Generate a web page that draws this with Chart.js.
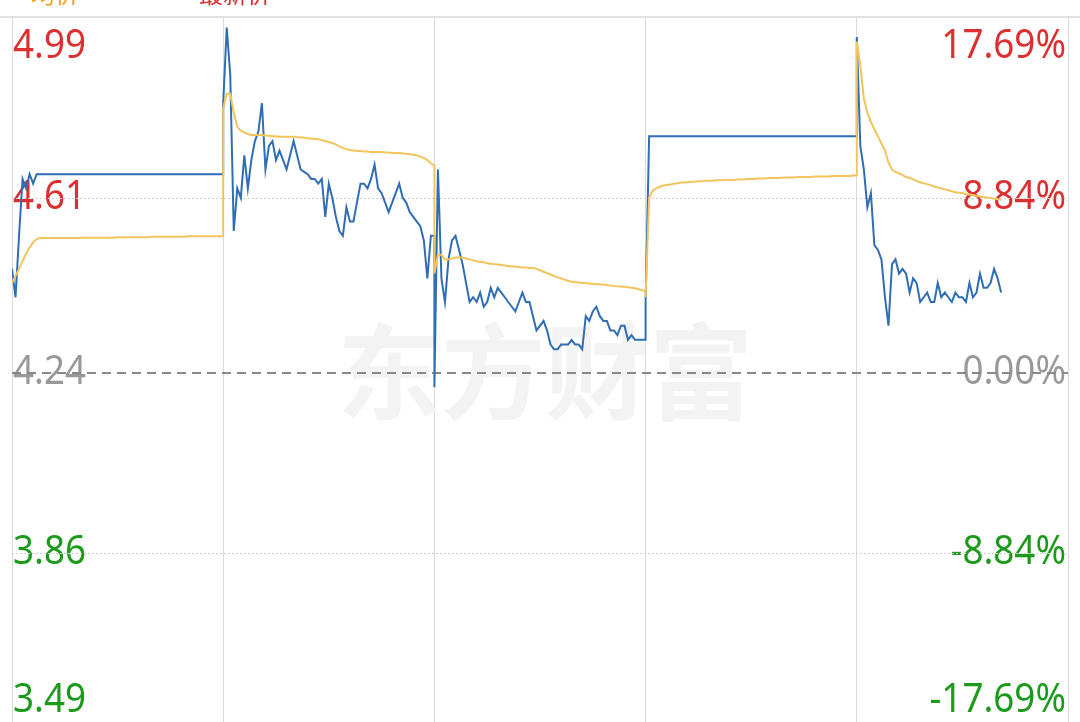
<!DOCTYPE html>
<html>
<head>
<meta charset="utf-8">
<script src="https://cdn.jsdelivr.net/npm/chart.js@4.4.0/dist/chart.umd.min.js"></script>
<style>
  html, body { margin: 0; padding: 0; background: #fff; overflow: hidden; }
  #wrap { width: 1080px; height: 722px; overflow: hidden; position: relative; }
</style>
</head>
<body>
<div id="wrap"><canvas id="fiveday" width="1080" height="730"></canvas></div>
<script>
// 5-day intraday chart, one sample every 4 minutes (61 per day)
var STEP = 4;
var dayTicks = [0, 240, 480, 720, 960, 1200];
var preClose = 4.24;

var leftLabels = ['4.99', '4.61', '4.24', '3.86', '3.49'];
var rightLabels = ['17.69%', '8.84%', '0.00%', '-8.84%', '-17.69%'];
var labelValues = [4.99, 4.61, 4.24, 3.86, 3.49];
var labelColors = ['#dc2f2f', '#dc2f2f', '#999999', '#1c9a1c', '#1c9a1c'];

// price (blue)
var price1 = [4.46, 4.40, 4.53, 4.65, 4.63, 4.66, 4.64, 4.66, 4.66, 4.66,
  4.66, 4.66, 4.66, 4.66, 4.66, 4.66, 4.66, 4.66, 4.66, 4.66,
  4.66, 4.66, 4.66, 4.66, 4.66, 4.66, 4.66, 4.66, 4.66, 4.66,
  4.66, 4.66, 4.66, 4.66, 4.66, 4.66, 4.66, 4.66, 4.66, 4.66,
  4.66, 4.66, 4.66, 4.66, 4.66, 4.66, 4.66, 4.66, 4.66, 4.66,
  4.66, 4.66, 4.66, 4.66, 4.66, 4.66, 4.66, 4.66, 4.66, 4.66, 4.66];
var price2 = [4.81, 4.97, 4.87, 4.54, 4.63, 4.61, 4.70, 4.63, 4.69, 4.73,
  4.75, 4.81, 4.67, 4.72, 4.73, 4.69, 4.71, 4.69, 4.67, 4.70,
  4.73, 4.70, 4.67, 4.665, 4.66, 4.65, 4.65, 4.64, 4.65, 4.57,
  4.64, 4.61, 4.57, 4.54, 4.53, 4.59, 4.56, 4.56, 4.60, 4.64,
  4.64, 4.63, 4.65, 4.68, 4.63, 4.62, 4.60, 4.58, 4.60, 4.62,
  4.64, 4.61, 4.60, 4.58, 4.57, 4.56, 4.55, 4.52, 4.44, 4.53, 4.53];
var price3 = [4.21, 4.67, 4.44, 4.39, 4.48, 4.52, 4.53, 4.50, 4.47, 4.43,
  4.39, 4.40, 4.39, 4.41, 4.38, 4.39, 4.42, 4.40, 4.42, 4.41,
  4.40, 4.39, 4.38, 4.37, 4.39, 4.41, 4.39, 4.39, 4.36, 4.33,
  4.34, 4.35, 4.33, 4.30, 4.29, 4.29, 4.30, 4.30, 4.30, 4.31,
  4.30, 4.30, 4.29, 4.36, 4.35, 4.37, 4.38, 4.36, 4.35, 4.35,
  4.33, 4.33, 4.32, 4.34, 4.34, 4.31, 4.32, 4.31, 4.31, 4.31, 4.31];
var price4 = [4.39, 4.74, 4.74, 4.74, 4.74, 4.74, 4.74, 4.74, 4.74, 4.74,
  4.74, 4.74, 4.74, 4.74, 4.74, 4.74, 4.74, 4.74, 4.74, 4.74,
  4.74, 4.74, 4.74, 4.74, 4.74, 4.74, 4.74, 4.74, 4.74, 4.74,
  4.74, 4.74, 4.74, 4.74, 4.74, 4.74, 4.74, 4.74, 4.74, 4.74,
  4.74, 4.74, 4.74, 4.74, 4.74, 4.74, 4.74, 4.74, 4.74, 4.74,
  4.74, 4.74, 4.74, 4.74, 4.74, 4.74, 4.74, 4.74, 4.74, 4.74, 4.74];
var price5 = [4.95, 4.72, 4.67, 4.59, 4.62, 4.51, 4.50, 4.48, 4.40, 4.34,
  4.47, 4.48, 4.45, 4.46, 4.45, 4.41, 4.44, 4.43, 4.39, 4.40,
  4.41, 4.39, 4.39, 4.43, 4.40, 4.41, 4.40, 4.39, 4.41, 4.40,
  4.40, 4.39, 4.43, 4.40, 4.41, 4.45, 4.42, 4.42, 4.43, 4.46,
  4.44, 4.41];

// average price (yellow)
var avg1 = [4.43, 4.445, 4.46, 4.477, 4.492, 4.505, 4.516, 4.523, 4.525, 4.525,
  4.525, 4.525, 4.525, 4.525, 4.525, 4.525, 4.525, 4.525, 4.525, 4.525,
  4.526, 4.526, 4.526, 4.526, 4.526, 4.526, 4.526, 4.526, 4.526, 4.526,
  4.527, 4.527, 4.527, 4.527, 4.527, 4.527, 4.527, 4.527, 4.527, 4.527,
  4.528, 4.528, 4.528, 4.528, 4.528, 4.528, 4.528, 4.528, 4.528, 4.528,
  4.529, 4.529, 4.529, 4.529, 4.529, 4.529, 4.529, 4.529, 4.529, 4.529, 4.529];
var avg2 = [4.80, 4.83, 4.83, 4.79, 4.76, 4.752, 4.748, 4.745, 4.743, 4.743,
  4.743, 4.743, 4.742, 4.741, 4.740, 4.740, 4.739, 4.739, 4.739, 4.739,
  4.739, 4.738, 4.738, 4.737, 4.736, 4.735, 4.735, 4.734, 4.732, 4.730,
  4.728, 4.726, 4.723, 4.719, 4.715, 4.713, 4.711, 4.710, 4.709, 4.709,
  4.708, 4.708, 4.707, 4.707, 4.707, 4.707, 4.706, 4.706, 4.705, 4.705,
  4.705, 4.704, 4.703, 4.702, 4.701, 4.700, 4.697, 4.694, 4.690, 4.683, 4.678];
var avg3 = [4.45, 4.49, 4.49, 4.48, 4.480, 4.482, 4.484, 4.484, 4.484, 4.482,
  4.480, 4.478, 4.476, 4.475, 4.474, 4.472, 4.471, 4.470, 4.469, 4.468,
  4.467, 4.466, 4.465, 4.465, 4.464, 4.463, 4.463, 4.462, 4.462, 4.460,
  4.457, 4.454, 4.451, 4.448, 4.445, 4.442, 4.440, 4.437, 4.435, 4.433,
  4.432, 4.431, 4.430, 4.430, 4.429, 4.428, 4.428, 4.427, 4.427, 4.426,
  4.425, 4.424, 4.423, 4.422, 4.422, 4.421, 4.420, 4.419, 4.417, 4.415, 4.412];
var avg4 = [4.40, 4.61, 4.625, 4.630, 4.633, 4.636, 4.637, 4.638, 4.640, 4.641,
  4.642, 4.643, 4.643, 4.644, 4.644, 4.645, 4.645, 4.646, 4.646, 4.646,
  4.647, 4.647, 4.647, 4.648, 4.648, 4.648, 4.649, 4.649, 4.649, 4.650,
  4.650, 4.650, 4.651, 4.651, 4.651, 4.652, 4.652, 4.652, 4.652, 4.653,
  4.653, 4.653, 4.653, 4.654, 4.654, 4.654, 4.654, 4.654, 4.655, 4.655,
  4.655, 4.655, 4.655, 4.656, 4.656, 4.656, 4.656, 4.656, 4.656, 4.657, 4.657];
var avg5 = [4.94, 4.89, 4.82, 4.79, 4.77, 4.755, 4.74, 4.725, 4.71, 4.685,
  4.67, 4.665, 4.662, 4.658, 4.654, 4.652, 4.649, 4.646, 4.643, 4.641,
  4.639, 4.637, 4.634, 4.632, 4.630, 4.628, 4.626, 4.624, 4.622, 4.621,
  4.620, 4.618, 4.617, 4.616, 4.614, 4.613, 4.612, 4.611, 4.610, 4.608,
  4.607, 4.606];

function toPoints(days) {
  var pts = [];
  days.forEach(function (arr, d) {
    arr.forEach(function (v, i) {
      pts.push({ x: dayTicks[d] + i * STEP, y: v });
    });
  });
  return pts;
}

// watermark, labels and horizontal guide lines
var decor = {
  id: 'decor',
  beforeDatasetsDraw: function (chart) {
    var ctx = chart.ctx, area = chart.chartArea, ys = chart.scales.y;
    ctx.save();
    // top rule and cut-off legend
    ctx.strokeStyle = '#d6d6d6';
    ctx.lineWidth = 1.5;
    ctx.beginPath(); ctx.moveTo(0, 17); ctx.lineTo(1080, 17); ctx.stroke();
    ctx.font = '24px "Noto Sans CJK SC"';
    ctx.textBaseline = 'alphabetic';
    ctx.fillStyle = '#f0a020';
    ctx.fillText('均价', 31, 3);
    ctx.fillStyle = '#dc2f2f';
    ctx.fillText('最新价', 199, 3);

    // watermark
    ctx.font = 'bold 104px "Noto Sans CJK SC"';
    ctx.fillStyle = '#f3f3f3';
    ctx.textAlign = 'center';
    ctx.textBaseline = 'middle';
    ctx.fillText('东方财富', 545, 372);

    // labels
    ctx.font = '40px "Noto Sans"';
    labelValues.forEach(function (v, k) {
      var y = ys.getPixelForValue(v);
      y = Math.max(area.top + 29, Math.min(area.bottom - 27, y));
      ctx.fillStyle = labelColors[k];
      ctx.save();
      ctx.translate(area.left + 1, y);
      ctx.scale(0.92, 1);
      ctx.textAlign = 'left';
      ctx.fillText(leftLabels[k], 0, 0);
      ctx.restore();
      ctx.save();
      ctx.translate(area.right - 2, y);
      ctx.scale(0.92, 1);
      ctx.textAlign = 'right';
      ctx.fillText(rightLabels[k], 0, 0);
      ctx.restore();
    });

    // dotted grid lines
    ctx.strokeStyle = '#d0d0d0';
    ctx.lineWidth = 1;
    ctx.setLineDash([2, 2]);
    [4.61, 3.86].forEach(function (v) {
      var y = Math.round(ys.getPixelForValue(v)) + 0.5;
      ctx.beginPath(); ctx.moveTo(area.left, y); ctx.lineTo(area.right, y); ctx.stroke();
    });
    // pre-close dashed line
    ctx.strokeStyle = '#888888';
    ctx.lineWidth = 2;
    ctx.setLineDash([9, 6]);
    var y0 = Math.round(ys.getPixelForValue(preClose));
    ctx.beginPath(); ctx.moveTo(area.left, y0); ctx.lineTo(area.right, y0); ctx.stroke();
    ctx.restore();
  }
};

var ctx = document.getElementById('fiveday').getContext('2d');
var chart = new Chart(ctx, {
  type: 'line',
  data: {
    datasets: [{
      label: '均价',
      data: toPoints([avg1, avg2, avg3, avg4, avg5]),
      borderColor: '#f3c45c',
      borderWidth: 2,
      pointRadius: 0,
      tension: 0
    }, {
      label: '最新价',
      data: toPoints([price1, price2, price3, price4, price5]),
      borderColor: '#2f6db5',
      borderWidth: 2,
      pointRadius: 0,
      tension: 0
    }]
  },
  options: {
    responsive: false,
    animation: false,
    layout: { padding: { left: 12, right: 12, top: 18, bottom: 2 } },
    plugins: { legend: { display: false }, tooltip: { enabled: false } },
    scales: {
      x: {
        type: 'linear',
        min: 0,
        max: 1200,
        afterBuildTicks: function (axis) {
          axis.ticks = dayTicks.map(function (v) { return { value: v }; });
        },
        ticks: { display: false },
        grid: { color: '#dadada', lineWidth: 1, drawTicks: false },
        border: { display: false }
      },
      y: {
        display: false,
        min: 3.49,
        max: 4.99
      }
    }
  },
  plugins: [decor]
});
</script>
</body>
</html>
